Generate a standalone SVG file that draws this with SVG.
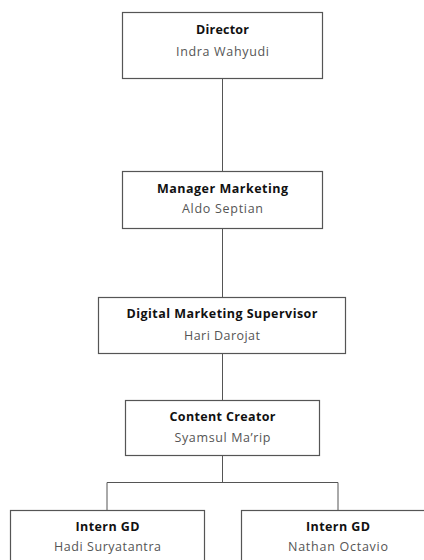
<svg xmlns="http://www.w3.org/2000/svg" width="424" height="560" viewBox="0 0 424 560">
<style>
.box{fill:#fff;stroke:#555;stroke-width:1.2}
.t{font-family:"Open Sans","Liberation Sans",sans-serif;font-size:12.5px;font-weight:700;fill:#111;text-anchor:middle}
.n{font-family:"Open Sans","Liberation Sans",sans-serif;font-size:12.5px;fill:#555;text-anchor:middle}
.c{fill:none;stroke:#555;stroke-width:1}
</style>
<rect width="424" height="560" fill="#fff"/>
<g id="connectors">
<line class="c" x1="222.5" y1="79" x2="222.5" y2="171"/>
<line class="c" x1="222.5" y1="228" x2="222.5" y2="297"/>
<line class="c" x1="222.5" y1="354" x2="222.5" y2="400"/>
<polyline class="c" points="222.5,456 222.5,482.5"/>
<polyline class="c" points="107,510 107,482.5 338,482.5 338,510"/>
</g>
<g id="director">
<rect class="box" x="122.5" y="12.5" width="200" height="66"/>
<text class="t" x="222.5" y="33.5" textLength="53">Director</text>
<text class="n" x="222.5" y="55.5" textLength="93">Indra Wahyudi</text>
</g>
<g id="manager">
<rect class="box" x="122.5" y="171.5" width="200" height="57"/>
<text class="t" x="222.5" y="192.5" textLength="131">Manager Marketing</text>
<text class="n" x="222.5" y="212.5" textLength="81">Aldo Septian</text>
</g>
<g id="supervisor">
<rect class="box" x="98.5" y="297.5" width="247" height="56"/>
<text class="t" x="222" y="317.5" textLength="191">Digital Marketing Supervisor</text>
<text class="n" x="222" y="339.5" textLength="76">Hari Darojat</text>
</g>
<g id="content-creator">
<rect class="box" x="125.5" y="400.5" width="194" height="55"/>
<text class="t" x="222.5" y="420.5" textLength="106">Content Creator</text>
<text class="n" x="222.5" y="441.5" textLength="96">Syamsul Ma’rip</text>
</g>
<g id="intern-1">
<rect class="box" x="10.5" y="510.5" width="194" height="60"/>
<text class="t" x="107.5" y="530.5" textLength="64">Intern GD</text>
<text class="n" x="107.5" y="550.5" textLength="107">Hadi Suryatantra</text>
</g>
<g id="intern-2">
<rect class="box" x="241.5" y="510.5" width="194" height="60"/>
<text class="t" x="338" y="530.5" textLength="64">Intern GD</text>
<text class="n" x="338" y="550.5" textLength="100">Nathan Octavio</text>
</g>
</svg>
